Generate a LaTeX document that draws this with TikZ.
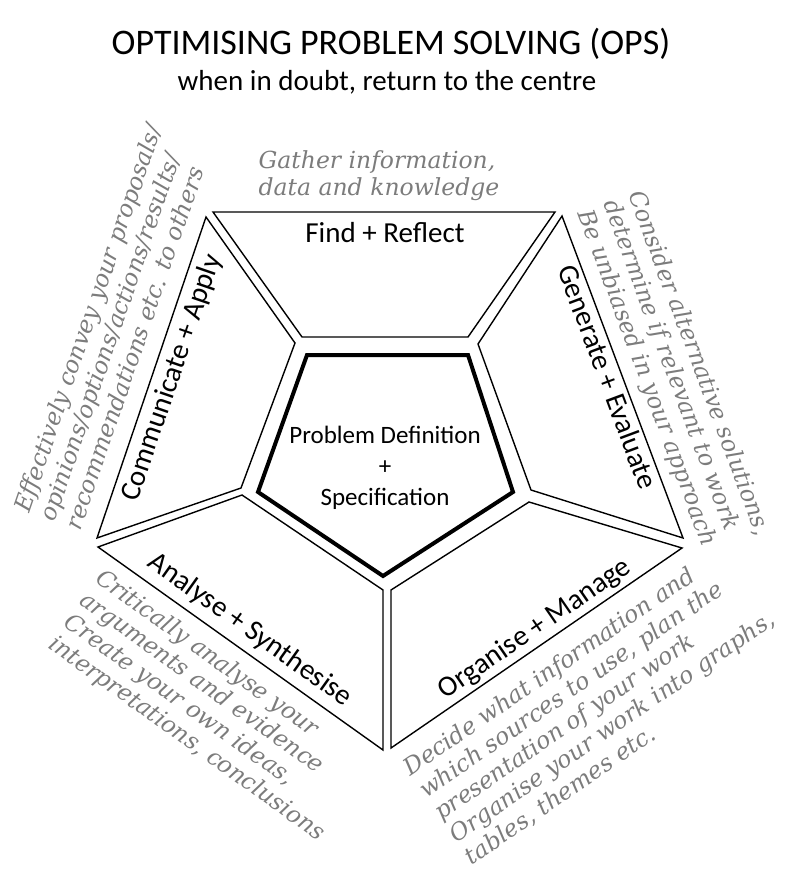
\documentclass[tikz,border=0pt]{standalone}
\usepackage{fontspec}
\setmainfont{Carlito}
\newfontfamily\notefont{DejaVu Serif}
\definecolor{notegray}{HTML}{7C7C7C}
\begin{document}
\begin{tikzpicture}[x=1pt,y=-1pt,
  seg/.style={draw=black,line width=1.4pt,line join=miter},
  corebox/.style={draw=black,line width=4pt,line join=miter},
  lab/.style={font=\fontsize{29}{35}\selectfont, inner sep=0pt},
  note/.style={font=\notefont\itshape\fontsize{23.5}{27}\selectfont, text=notegray, align=left, inner sep=0pt}]
\useasboundingbox (0,0) rectangle (793,882);
% segments
\draw[seg] (213,212) -- (555,212) -- (468,337) -- (302,337) -- cycle;
\draw[seg] (562,216) -- (683,538) -- (531,490) -- (478,344) -- cycle;
\draw[seg] (206,217) -- (295,343) -- (241,488) -- (97,538) -- cycle;
\draw[seg] (98,547) -- (242,495) -- (383,590) -- (383,750) -- cycle;
\draw[seg] (391,590) -- (529,502) -- (682,548) -- (391,748) -- cycle;
\draw[corebox] (307,355) -- (468,355) -- (513,492) -- (383,576) -- (258,492) -- cycle;
% titles
\node[font=\fontsize{36}{40}\selectfont, inner sep=0pt] (title) at (391,44) {OPTIMISING PROBLEM SOLVING (OPS)};
\node[lab] (sub) at (387,82) {when in doubt, return to the centre};
% segment labels
\node[lab] (find) at (385,233) {Find + Reflect};
\node[lab, rotate=71] (comm) at (172,378) {Communicate + Apply};
\node[lab, rotate=-69.5] (gen) at (608,377) {Generate + Evaluate};
\node[lab, rotate=-35.5] (ana) at (250,630) {Analyse + Synthesise};
\node[lab, rotate=34.5] (org) at (535,629) {Organise + Manage};
\node[font=\fontsize{25}{31}\selectfont, align=center, inner sep=0pt] (core) at (385,468) {Problem Definition\\+\\Specification};
% notes
\node[note] (gather) at (379,176) {Gather information,\\data and knowledge};
\node[note, rotate=71] (commnote) at (113,327) {Effectively convey your proposals/\\opinions/options/actions/results/\\recommendations etc. to others};
\node[note, rotate=-69.5] (gennote) at (673,373) {Consider alternative solutions,\\determine if relevant to work\\Be unbiased in your approach};
\node[note, rotate=-35.5] (ananote) at (210,706) {Critically analyse your\\arguments and evidence\\Create your own ideas,\\interpretations, conclusions};
\node[note, rotate=34.5] (orgnote) at (597,705) {Decide what information and\\which sources to use, plan the\\presentation of your work\\Organise your work into graphs,\\tables, themes etc.};
\end{tikzpicture}
\end{document}
